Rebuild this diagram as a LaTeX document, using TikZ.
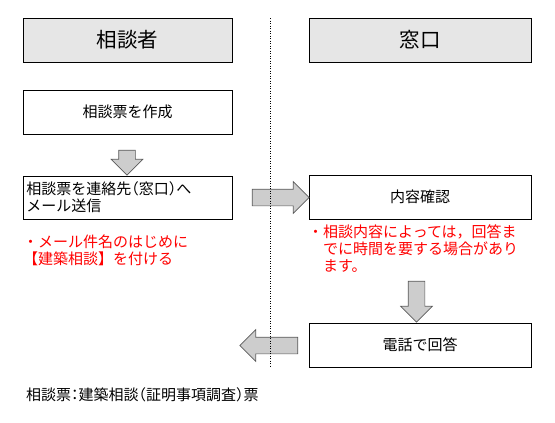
\documentclass[tikz,border=0pt]{standalone}
\usepackage{fontspec}
\setmainfont{Noto Sans CJK JP}
\usetikzlibrary{shapes.arrows}
\definecolor{headgray}{RGB}{230,230,230}
\definecolor{arrowgray}{RGB}{205,205,205}
\definecolor{arrowline}{RGB}{90,90,90}
\definecolor{notered}{RGB}{255,0,0}
\newcommand{\lpar}{\kern-0.5em（}
\newcommand{\rpar}{）\kern-0.5em}
\newcommand{\hcolon}{\kern-0.25em：\kern-0.25em}

\begin{document}
\begin{tikzpicture}[
  x=1pt, y=-1pt,
  head/.style={rectangle, draw, line width=0.9pt, fill=headgray, minimum width=209pt, minimum height=44pt, font=\fontsize{20.5}{24}\selectfont},
  flowbox/.style={rectangle, draw, line width=0.9pt, minimum height=44pt, font=\fontsize{15}{17}\selectfont},
  note/.style={anchor=west, inner sep=0pt, align=left, text=notered, font=\fontsize{15}{17}\selectfont},
  blockarr/.style={single arrow, draw=arrowline, fill=arrowgray, line width=0.7pt, inner xsep=0pt, inner ysep=8pt, single arrow head extend=7.5pt}
]
  \useasboundingbox (0,0) rectangle (555,423);

  % column heads
  \node[head] (client) at (127.5,40) {相談者};
  \node[head, minimum width=222pt] (desk) at (420,40) {窓口};

  % consulter side
  \node[flowbox, minimum width=209pt] (make) at (127.5,112) {相談票を作成};
  \node[flowbox, minimum width=209pt, minimum height=43pt, text width=202pt, inner xsep=3.5pt, align=left] (send) at (127.5,197.5) {相談票を連絡先\lpar 窓口\rpar へ\\メール送信};
  \node[note] (mailnote) at (23,250.5) {・メール件名のはじめに\\【建築相談】を付ける};

  % desk side
  \node[flowbox, minimum width=222pt] (check) at (420,197) {内容確認};
  \node[note] (timenote) at (308,248.5) {・相談内容によっては，回答ま\\\hspace*{1em}でに時間を要する場合があり\\\hspace*{1em}ます。};
  \node[flowbox, minimum width=222pt] (answer) at (420,345) {電話で回答};

  % block arrows
  \node[blockarr, rotate=-90, minimum height=25pt] (a1) at (127,158.5) {};
  \node[blockarr, minimum height=57pt] (a2) at (276.5,197.5) {};
  \node[blockarr, rotate=-90, minimum height=41pt] (a3) at (416.5,297.5) {};
  \node[blockarr, rotate=180, minimum height=58pt] (a4) at (273,345.5) {};

  % divider
  \coordinate (dtop) at (270.5,18);
  \coordinate (dbot) at (270.5,367);
  \draw[line width=0.8pt, dash pattern=on 0.9pt off 1.6pt] (dtop) -- (dbot);

  \node[anchor=west, inner sep=0pt, font=\fontsize{15}{17}\selectfont] (legend) at (26,395) {相談票\hcolon 建築相談\lpar 証明事項調査\rpar 票};
\end{tikzpicture}
\end{document}
